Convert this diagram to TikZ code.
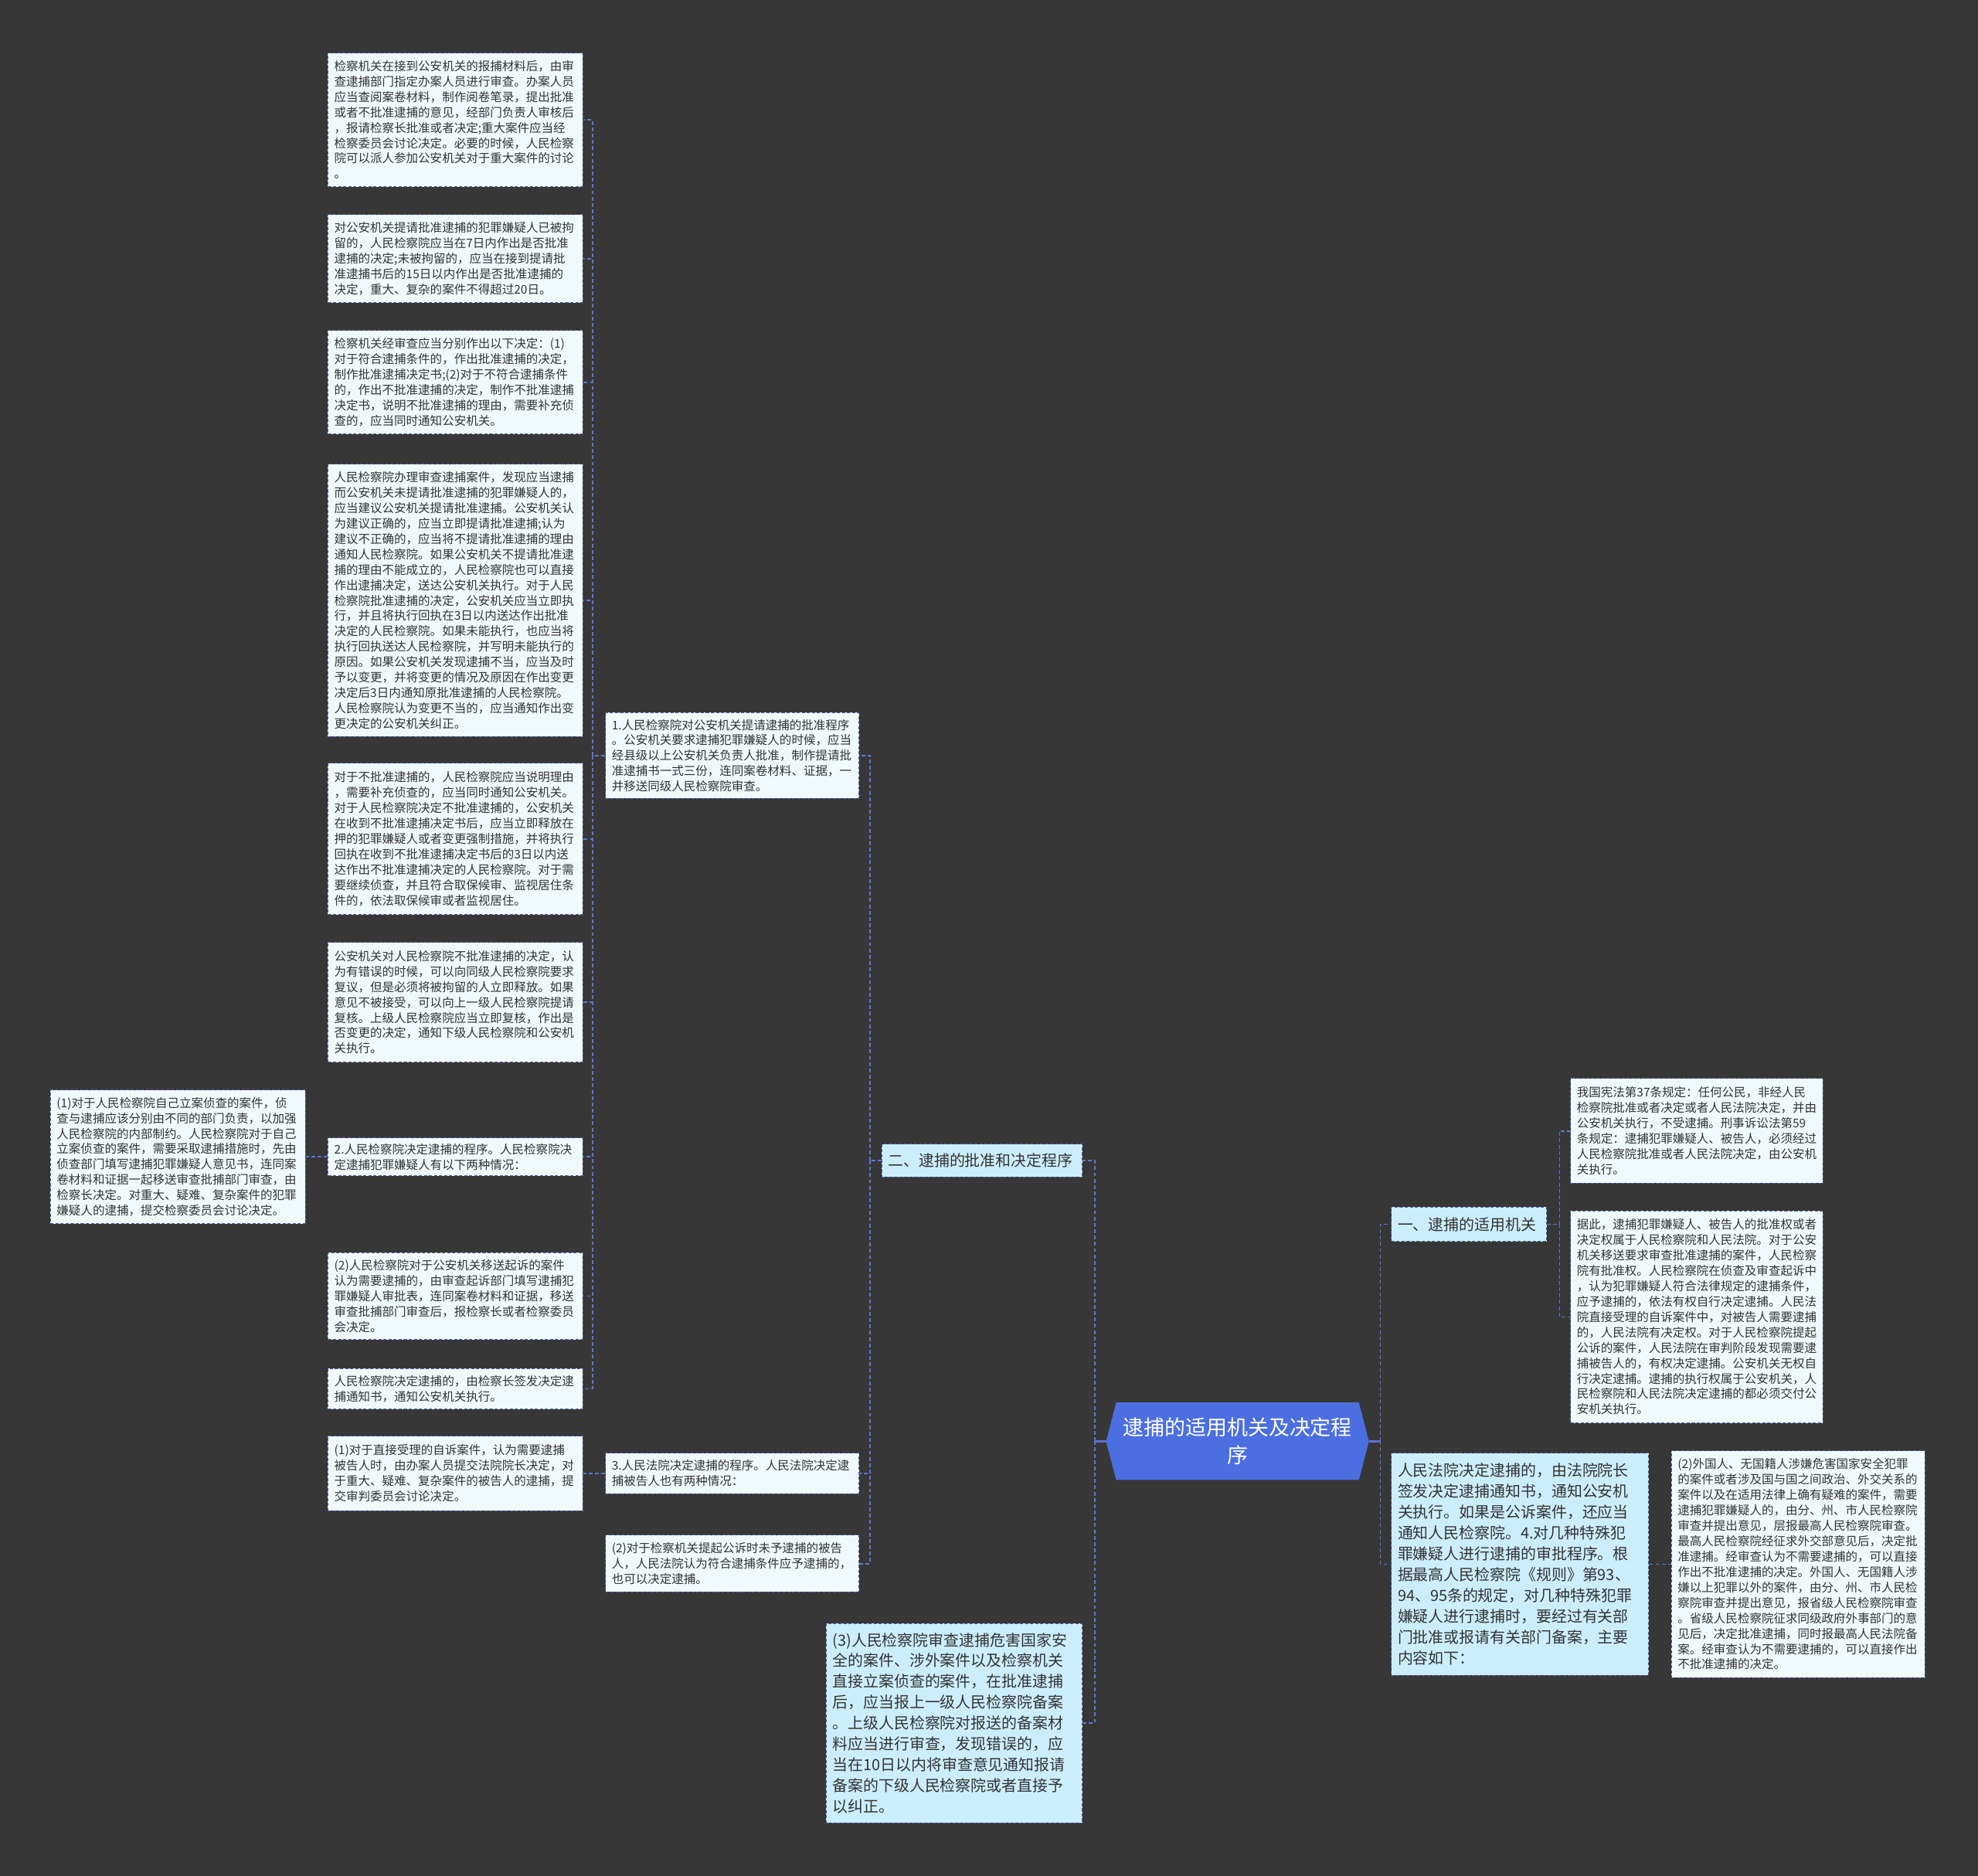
\documentclass[tikz,border=0pt]{standalone}
\usepackage{fontspec}
\setmainfont{Noto Sans CJK SC}
\usetikzlibrary{backgrounds}
\definecolor{bgc}{RGB}{56,55,55}
\definecolor{lightfill}{RGB}{240,250,253}
\definecolor{bluefill}{RGB}{204,238,252}
\definecolor{boxedge}{RGB}{80,96,160}
\definecolor{conncol}{RGB}{92,116,212}
\definecolor{rootfill}{RGB}{75,110,225}
\definecolor{txt}{RGB}{51,51,51}
\tikzset{
  lbox/.style={draw=boxedge, dash pattern=on 2.5pt off 1.5pt, line width=0.6pt, fill=lightfill, text=txt, align=left, inner xsep=5pt, inner ysep=3pt, font=\fontsize{9.5}{12.2}\selectfont, anchor=center},
  bbox/.style={draw=boxedge, dash pattern=on 2.5pt off 1.5pt, line width=0.6pt, fill=bluefill, text=txt, align=left, inner xsep=5pt, inner ysep=3pt, font=\fontsize{12.2}{16.5}\selectfont, anchor=center},
  conn/.style={draw=conncol, line width=1pt, dash pattern=on 3pt off 2pt},
  connsolid/.style={draw=conncol, line width=1.6pt},
}
\begin{document}
\begin{tikzpicture}[x=1pt,y=-1pt]
\begin{scope}[on background layer]
\fill[bgc] (0,0) rectangle (1568,1487);
\end{scope}
\useasboundingbox (0,0) rectangle (1568,1487);

% left column
\node[lbox, text width=192pt, minimum height=106pt] (b1) at (361,95) {检察机关在接到公安机关的报捕材料后，由审\\查逮捕部门指定办案人员进行审查。办案人员\\应当查阅案卷材料，制作阅卷笔录，提出批准\\或者不批准逮捕的意见，经部门负责人审核后\\，报请检察长批准或者决定;重大案件应当经\\检察委员会讨论决定。必要的时候，人民检察\\院可以派人参加公安机关对于重大案件的讨论\\。};
\node[lbox, text width=192pt, minimum height=70pt] (b2) at (361,205) {对公安机关提请批准逮捕的犯罪嫌疑人已被拘\\留的，人民检察院应当在7日内作出是否批准\\逮捕的决定;未被拘留的，应当在接到提请批\\准逮捕书后的15日以内作出是否批准逮捕的\\决定，重大、复杂的案件不得超过20日。};
\node[lbox, text width=192pt, minimum height=82pt] (b3) at (361,303) {检察机关经审查应当分别作出以下决定：(1)\\对于符合逮捕条件的，作出批准逮捕的决定，\\制作批准逮捕决定书;(2)对于不符合逮捕条件\\的，作出不批准逮捕的决定，制作不批准逮捕\\决定书，说明不批准逮捕的理由，需要补充侦\\查的，应当同时通知公安机关。};
\node[lbox, text width=192pt, minimum height=216pt] (b4) at (361,476) {人民检察院办理审查逮捕案件，发现应当逮捕\\而公安机关未提请批准逮捕的犯罪嫌疑人的，\\应当建议公安机关提请批准逮捕。公安机关认\\为建议正确的，应当立即提请批准逮捕;认为\\建议不正确的，应当将不提请批准逮捕的理由\\通知人民检察院。如果公安机关不提请批准逮\\捕的理由不能成立的，人民检察院也可以直接\\作出逮捕决定，送达公安机关执行。对于人民\\检察院批准逮捕的决定，公安机关应当立即执\\行，并且将执行回执在3日以内送达作出批准\\决定的人民检察院。如果未能执行，也应当将\\执行回执送达人民检察院，并写明未能执行的\\原因。如果公安机关发现逮捕不当，应当及时\\予以变更，并将变更的情况及原因在作出变更\\决定后3日内通知原批准逮捕的人民检察院。\\人民检察院认为变更不当的，应当通知作出变\\更决定的公安机关纠正。};
\node[lbox, text width=192pt, minimum height=120pt] (b5) at (361,665) {对于不批准逮捕的，人民检察院应当说明理由\\，需要补充侦查的，应当同时通知公安机关。\\对于人民检察院决定不批准逮捕的，公安机关\\在收到不批准逮捕决定书后，应当立即释放在\\押的犯罪嫌疑人或者变更强制措施，并将执行\\回执在收到不批准逮捕决定书后的3日以内送\\达作出不批准逮捕决定的人民检察院。对于需\\要继续侦查，并且符合取保候审、监视居住条\\件的，依法取保候审或者监视居住。};
\node[lbox, text width=192pt, minimum height=95pt] (b6) at (361,794.5) {公安机关对人民检察院不批准逮捕的决定，认\\为有错误的时候，可以向同级人民检察院要求\\复议，但是必须将被拘留的人立即释放。如果\\意见不被接受，可以向上一级人民检察院提请\\复核。上级人民检察院应当立即复核，作出是\\否变更的决定，通知下级人民检察院和公安机\\关执行。};
\node[lbox, text width=192pt, minimum height=30pt] (b7) at (361,917) {2.人民检察院决定逮捕的程序。人民检察院决\\定逮捕犯罪嫌疑人有以下两种情况：};
\node[lbox, text width=192pt, minimum height=69pt] (b8) at (361,1027.5) {(2)人民检察院对于公安机关移送起诉的案件\\认为需要逮捕的，由审查起诉部门填写逮捕犯\\罪嫌疑人审批表，连同案卷材料和证据，移送\\审查批捕部门审查后，报检察长或者检察委员\\会决定。};
\node[lbox, text width=192pt, minimum height=32pt] (b9) at (361,1101) {人民检察院决定逮捕的，由检察长签发决定逮\\捕通知书，通知公安机关执行。};
\node[lbox, text width=192pt, minimum height=59pt] (b10) at (361,1168) {(1)对于直接受理的自诉案件，认为需要逮捕\\被告人时，由办案人员提交法院院长决定，对\\于重大、疑难、复杂案件的被告人的逮捕，提\\交审判委员会讨论决定。};

% far left
\node[lbox, text width=192pt, minimum height=106pt] (fl) at (141,917) {(1)对于人民检察院自己立案侦查的案件，侦\\查与逮捕应该分别由不同的部门负责，以加强\\人民检察院的内部制约。人民检察院对于自己\\立案侦查的案件，需要采取逮捕措施时，先由\\侦查部门填写逮捕犯罪嫌疑人意见书，连同案\\卷材料和证据一起移送审查批捕部门审查，由\\检察长决定。对重大、疑难、复杂案件的犯罪\\嫌疑人的逮捕，提交检察委员会讨论决定。};

% middle column
\node[lbox, text width=191pt, minimum height=68pt] (m1) at (580.5,599) {1.人民检察院对公安机关提请逮捕的批准程序\\。公安机关要求逮捕犯罪嫌疑人的时候，应当\\经县级以上公安机关负责人批准，制作提请批\\准逮捕书一式三份，连同案卷材料、证据，一\\并移送同级人民检察院审查。};
\node[lbox, text width=191pt, minimum height=32pt] (m3) at (580.5,1168) {3.人民法院决定逮捕的程序。人民法院决定逮\\捕被告人也有两种情况：};
\node[lbox, text width=191pt, minimum height=45pt] (m2) at (580.5,1239.5) {(2)对于检察机关提起公诉时未予逮捕的被告\\人，人民法院认为符合逮捕条件应予逮捕的，\\也可以决定逮捕。};
\node[bbox, text width=193pt, minimum height=158pt] (m4) at (756.5,1366) {(3)人民检察院审查逮捕危害国家安\\全的案件、涉外案件以及检察机关\\直接立案侦查的案件，在批准逮捕\\后，应当报上一级人民检察院备案\\。上级人民检察院对报送的备案材\\料应当进行审查，发现错误的，应\\当在10日以内将审查意见通知报请\\备案的下级人民检察院或者直接予\\以纠正。};
\node[bbox, text width=149pt, minimum height=26pt, inner ysep=2pt] (L2) at (778.5,920) {二、逮捕的批准和决定程序};

% root
\node[text=white, align=center, minimum width=208pt, minimum height=61pt, text width=196pt, font=\fontsize{16.5}{22}\selectfont] (root) at (981,1142.5) {逮捕的适用机关及决定程\\序};
\begin{scope}[on background layer]
\fill[rootfill] (root.west) -- ([xshift=8pt]root.north west) -- ([xshift=-8pt]root.north east) -- (root.east) -- ([xshift=-8pt]root.south east) -- ([xshift=8pt]root.south west) -- cycle;
\end{scope}

% right side
\node[bbox, text width=113pt, minimum height=27pt, inner ysep=2pt] (L1) at (1164.5,970.5) {一、逮捕的适用机关};
\node[lbox, text width=190pt, minimum height=83pt] (rA) at (1345,896.5) {我国宪法第37条规定：任何公民，非经人民\\检察院批准或者决定或者人民法院决定，并由\\公安机关执行，不受逮捕。刑事诉讼法第59\\条规定：逮捕犯罪嫌疑人、被告人，必须经过\\人民检察院批准或者人民法院决定，由公安机\\关执行。};
\node[lbox, text width=190pt, minimum height=168pt] (rB) at (1345,1044) {据此，逮捕犯罪嫌疑人、被告人的批准权或者\\决定权属于人民检察院和人民法院。对于公安\\机关移送要求审查批准逮捕的案件，人民检察\\院有批准权。人民检察院在侦查及审查起诉中\\，认为犯罪嫌疑人符合法律规定的逮捕条件，\\应予逮捕的，依法有权自行决定逮捕。人民法\\院直接受理的自诉案件中，对被告人需要逮捕\\的，人民法院有决定权。对于人民检察院提起\\公诉的案件，人民法院在审判阶段发现需要逮\\捕被告人的，有权决定逮捕。公安机关无权自\\行决定逮捕。逮捕的执行权属于公安机关，人\\民检察院和人民法院决定逮捕的都必须交付公\\安机关执行。};
\node[bbox, text width=194pt, minimum height=176pt] (rC) at (1205,1240) {人民法院决定逮捕的，由法院院长\\签发决定逮捕通知书，通知公安机\\关执行。如果是公诉案件，还应当\\通知人民检察院。4.对几种特殊犯\\罪嫌疑人进行逮捕的审批程序。根\\据最高人民检察院《规则》第93、\\94、95条的规定，对几种特殊犯罪\\嫌疑人进行逮捕时，要经过有关部\\门批准或报请有关部门备案，主要\\内容如下：};
\node[lbox, text width=191pt, minimum height=180pt] (rD) at (1425.5,1240) {(2)外国人、无国籍人涉嫌危害国家安全犯罪\\的案件或者涉及国与国之间政治、外交关系的\\案件以及在适用法律上确有疑难的案件，需要\\逮捕犯罪嫌疑人的，由分、州、市人民检察院\\审查并提出意见，层报最高人民检察院审查。\\最高人民检察院经征求外交部意见后，决定批\\准逮捕。经审查认为不需要逮捕的，可以直接\\作出不批准逮捕的决定。外国人、无国籍人涉\\嫌以上犯罪以外的案件，由分、州、市人民检\\察院审查并提出意见，报省级人民检察院审查\\。省级人民检察院征求同级政府外事部门的意\\见后，决定批准逮捕，同时报最高人民法院备\\案。经审查认为不需要逮捕的，可以直接作出\\不批准逮捕的决定。};

% connectors
\coordinate (tl) at ([xshift=-9pt]root.west);
\coordinate (tr) at ([xshift=9pt]root.east);
\draw[connsolid] (root.west) -- (tl);
\draw[connsolid] (root.east) -- (tr);
\draw[conn] (tl) |- (L2.east);
\draw[conn] (tl) |- (m4.east);
\draw[conn] (tr) |- (L1.west);
\draw[conn] (tr) |- (rC.west);

\coordinate (t1) at ([xshift=10pt]L1.east);
\draw[conn] (L1.east) -- (t1);
\draw[conn] (t1) |- (rA.west);
\draw[conn] (t1) |- (rB.west);
\draw[conn] (rC.east) -- (rD.west);

\coordinate (t2) at ([xshift=-9pt]L2.west);
\draw[conn] (L2.west) -- (t2);
\draw[conn] (t2) |- (m1.east);
\draw[conn] (t2) |- (m3.east);
\draw[conn] (t2) |- (m2.east);

\coordinate (t3) at ([xshift=-10pt]m1.west);
\draw[conn] (m1.west) -- (t3);
\foreach \n in {b1,b2,b3,b4,b5,b6,b7,b8,b9} {\draw[conn] (t3) |- (\n.east);}
\draw[conn] (m3.west) -- (b10.east);
\draw[conn] (b7.west) -- (fl.east);
\end{tikzpicture}
\end{document}
